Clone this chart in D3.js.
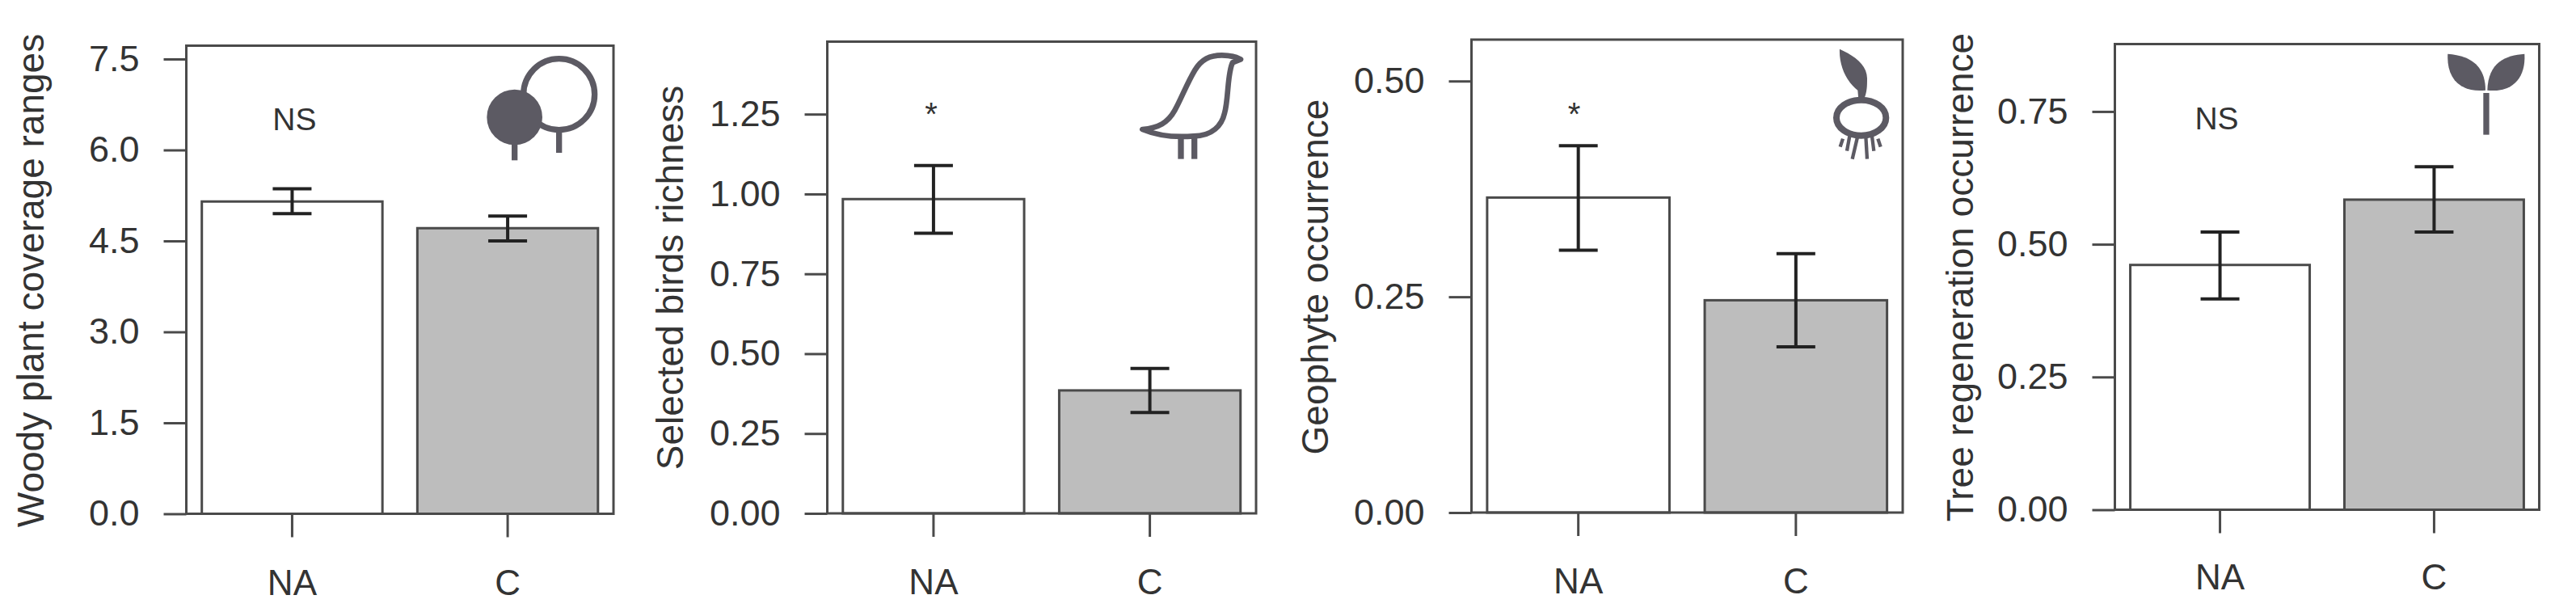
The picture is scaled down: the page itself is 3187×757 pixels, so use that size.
<!DOCTYPE html>
<html>
<head>
<meta charset="utf-8">
<script src="https://cdn.jsdelivr.net/npm/d3@7"></script>
<style>
  html, body { margin: 0; padding: 0; background: #fff; }
  svg { display: block; }
  text { font-family: "Liberation Sans", Arial, sans-serif; fill: #333; }
</style>
</head>
<body>
<div id="canvas"></div>
<script>
var categories = ["NA", "C"];

var titles = ["Woody plant coverage ranges", "Selected birds richness", "Geophyte occurrence", "Tree regeneration occurrence"];
var means = [[5.15, 4.71], [0.984, 0.385], [0.365, 0.246], [0.461, 0.584]];
var uppers = [[5.36, 4.91], [1.089, 0.454], [0.425, 0.300], [0.523, 0.646]];
var lowers = [[4.95, 4.50], [0.877, 0.316], [0.304, 0.192], [0.397, 0.523]];
var yTicks = [
  [0, 1.5, 3, 4.5, 6, 7.5],
  [0, 0.25, 0.5, 0.75, 1, 1.25],
  [0, 0.25, 0.5],
  [0, 0.25, 0.5, 0.75]
];
var yFormats = [".1f", ".2f", ".2f", ".2f"];
var yMaxes = [7.72, 1.477, 0.548, 0.877];
var marks = ["NS", "*", "*", "NS"];
var markValues = [6.33, 1.215, 0.449, 0.717];

// layout of each panel, in page pixels
var frames = [
  { left: 230.5, right: 759, top: 56.5, bottom: 635.5, titleX: 53.5, titleY: 347, labelPad: 40 },
  { left: 1023.5, right: 1554, top: 51.5, bottom: 635, titleX: 845, titleY: 343.5, labelPad: 40 },
  { left: 1820.5, right: 2354, top: 49, bottom: 634, titleX: 1642.5, titleY: 342.5, labelPad: 40 },
  { left: 2616.5, right: 3141.5, top: 54.5, bottom: 630.5, titleX: 2440.5, titleY: 343, labelPad: 38 }
];
var markOffsets = [3, -3, -5, -4];

var svg = d3.select("#canvas")
  .append("svg")
  .attr("width", 3187)
  .attr("height", 757)
  .style("background-color", "white");

var barFills = ["#ffffff", "#bdbdbd"];
var lineColor = "#4a4a4a";
var iconColor = "#5c5a63";

frames.forEach(function (f, i) {
  var x = d3.scaleBand()
    .domain(categories)
    .range([f.left, f.right])
    .paddingInner(0.162)
    .paddingOuter(0.072);

  var y = d3.scaleLinear()
    .domain([0, yMaxes[i]])
    .range([f.bottom, f.top]);

  var g = svg.append("g").attr("class", "panel");

  var rows = categories.map(function (c, j) {
    return { cat: c, mean: means[i][j], hi: uppers[i][j], lo: lowers[i][j], fill: barFills[j] };
  });

  g.selectAll("rect.bar")
    .data(rows)
    .enter().append("rect")
    .attr("class", "bar")
    .attr("x", function (d) { return x(d.cat); })
    .attr("y", function (d) { return y(d.mean); })
    .attr("width", x.bandwidth())
    .attr("height", function (d) { return y(0) - y(d.mean); })
    .attr("fill", function (d) { return d.fill; })
    .attr("stroke", lineColor)
    .attr("stroke-width", 3);

  // frame
  g.append("rect")
    .attr("x", f.left)
    .attr("y", f.top)
    .attr("width", f.right - f.left)
    .attr("height", f.bottom - f.top)
    .attr("fill", "none")
    .attr("stroke", lineColor)
    .attr("stroke-width", 3);

  // error bars
  var center = function (d) { return x(d.cat) + x.bandwidth() / 2; };
  var capHalf = 24;
  var err = g.selectAll("g.err").data(rows).enter().append("g").attr("class", "err");
  err.append("line")
    .attr("x1", center).attr("x2", center)
    .attr("y1", function (d) { return y(d.lo); })
    .attr("y2", function (d) { return y(d.hi); });
  err.append("line")
    .attr("x1", function (d) { return center(d) - capHalf; })
    .attr("x2", function (d) { return center(d) + capHalf; })
    .attr("y1", function (d) { return y(d.hi); })
    .attr("y2", function (d) { return y(d.hi); });
  err.append("line")
    .attr("x1", function (d) { return center(d) - capHalf; })
    .attr("x2", function (d) { return center(d) + capHalf; })
    .attr("y1", function (d) { return y(d.lo); })
    .attr("y2", function (d) { return y(d.lo); });
  err.selectAll("line").attr("stroke", "#222").attr("stroke-width", 4);

  // axes
  var yAxis = d3.axisLeft(y)
    .tickValues(yTicks[i])
    .tickFormat(d3.format(yFormats[i]))
    .tickSize(28)
    .tickPadding(30);
  var yG = g.append("g").attr("transform", "translate(" + f.left + ",0)").call(yAxis);

  var xAxis = d3.axisBottom(x).tickSize(29).tickPadding(f.labelPad);
  var xG = g.append("g").attr("transform", "translate(0," + f.bottom + ")").call(xAxis);

  [yG, xG].forEach(function (a, k) {
    a.select(".domain").remove();
    a.selectAll("line").attr("stroke", lineColor).attr("stroke-width", 3);
    a.selectAll("text")
      .attr("font-size", k == 0 ? 45 : 44)
      .attr("font-family", "Liberation Sans")
      .attr("fill", "#333");
  });

  // y title
  g.append("text")
    .attr("transform", "translate(" + f.titleX + "," + f.titleY + ") rotate(-90)")
    .attr("text-anchor", "middle")
    .attr("font-size", 46)
    .text(titles[i]);

  // significance mark
  g.append("text")
    .attr("x", x(categories[0]) + x.bandwidth() / 2 + markOffsets[i])
    .attr("y", y(markValues[i]))
    .attr("text-anchor", "middle")
    .attr("font-size", marks[i] == "*" ? 40 : 39)
    .text(marks[i]);
});

// icons
var icons = svg.append("g").attr("class", "icons");

var trees = icons.append("g").attr("transform", "translate(560,40) scale(0.3333)");
trees.append("circle").attr("cx", 395).attr("cy", 230).attr("r", 132)
  .attr("fill", "white").attr("stroke", iconColor).attr("stroke-width", 22);
trees.append("line").attr("x1", 395).attr("x2", 395).attr("y1", 365).attr("y2", 447)
  .attr("stroke", iconColor).attr("stroke-width", 22);
trees.append("circle").attr("cx", 230).attr("cy", 315).attr("r", 103).attr("fill", iconColor);
trees.append("line").attr("x1", 230).attr("x2", 230).attr("y1", 400).attr("y2", 475)
  .attr("stroke", iconColor).attr("stroke-width", 22);

var bird = icons.append("g").attr("transform", "translate(1390,40) scale(0.3333)");
bird.append("path")
  .attr("d", "M70,360 C130,355 165,335 190,290 C215,245 235,190 265,140 C290,100 320,85 365,85 C395,85 420,92 435,100 L405,112 C385,150 390,250 375,300 C365,345 330,385 260,385 C200,390 130,385 70,360 Z")
  .attr("fill", "white").attr("stroke", iconColor).attr("stroke-width", 20).attr("stroke-linejoin", "round");
bird.selectAll("line.leg").data([213, 263]).enter().append("line")
  .attr("class", "leg")
  .attr("x1", function (d) { return d; }).attr("x2", function (d) { return d; })
  .attr("y1", 390).attr("y2", 470)
  .attr("stroke", iconColor).attr("stroke-width", 22);

var bulb = icons.append("g").attr("transform", "translate(2230,40) scale(0.3333)");
bulb.append("path")
  .attr("d", "M138,62 C190,85 240,120 240,170 C240,200 240,220 228,250 L208,250 L205,215 C170,190 135,130 138,62 Z")
  .attr("fill", iconColor);
bulb.append("ellipse").attr("cx", 218).attr("cy", 317).attr("rx", 92).attr("ry", 66)
  .attr("fill", "white").attr("stroke", iconColor).attr("stroke-width", 24);
bulb.selectAll("line.root")
  .data([[205, 385, 185, 470], [175, 385, 165, 440], [150, 395, 140, 425], [235, 385, 240, 470], [258, 385, 265, 440], [280, 395, 290, 425]])
  .enter().append("line")
  .attr("class", "root")
  .attr("x1", function (d) { return d[0]; }).attr("y1", function (d) { return d[1]; })
  .attr("x2", function (d) { return d[2]; }).attr("y2", function (d) { return d[3]; })
  .attr("stroke", iconColor).attr("stroke-width", 13);

var sprout = icons.append("g").attr("transform", "translate(3000,40) scale(0.3333)");
sprout.append("path")
  .attr("d", "M85,80 C150,85 225,110 225,215 C130,225 80,170 85,80 Z")
  .attr("fill", iconColor);
sprout.append("path")
  .attr("d", "M370,80 C300,85 235,110 232,215 C325,225 375,170 370,80 Z")
  .attr("fill", iconColor);
sprout.append("line").attr("x1", 228).attr("x2", 228).attr("y1", 225).attr("y2", 380)
  .attr("stroke", iconColor).attr("stroke-width", 22);
</script>
</body>
</html>
